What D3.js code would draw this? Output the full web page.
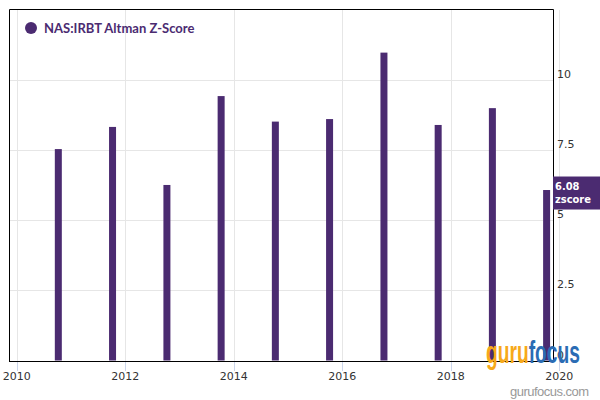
<!DOCTYPE html>
<html><head><meta charset="utf-8">
<script src="https://cdn.jsdelivr.net/npm/d3@7"></script>
<style>body{margin:0;background:#fff}svg{display:block}</style>
</head><body>
<svg id="c" width="600" height="400"></svg>
<script>
const dates = ["2010-10-08","2011-10-08","2012-10-08","2013-10-08","2014-10-08","2015-10-08","2016-10-08","2017-10-08","2018-10-08","2019-10-08"];
const zscores = [7.54, 8.33, 6.26, 9.43, 8.52, 8.61, 10.98, 8.40, 9.00, 6.08];
const xTickYears = [2010, 2012, 2014, 2016, 2018, 2020];
const yTicks = [0, 2.5, 5, 7.5, 10];
const seriesName = "NAS:IRBT Altman Z-Score";
const lastLabel = ["6.08", "zscore"];

(function(){
const purple = "#4b2b71";
const svg = d3.select("#c");
const pL = 9, pR = 553, pT = 9, pB = 361;
const parse = d3.timeParse("%Y-%m-%d");
const x = d3.scaleTime().domain([new Date(2009,10,10), new Date(2019,10,20)]).range([pL, pR]);
const y = d3.scaleLinear().domain([0, 12.5]).range([360.5, 10]);

// horizontal grid
svg.append("g").selectAll("line").data(yTicks.filter(d=>d>0)).join("line")
  .attr("x1", pL).attr("x2", pR)
  .attr("y1", d=>Math.round(y(d))+0.5).attr("y2", d=>Math.round(y(d))+0.5)
  .attr("stroke", "#e6e6e6").attr("stroke-width", 1);
// vertical grid + ticks
const tx = xTickYears.map(yr => new Date(yr,0,1));
svg.append("g").selectAll("line").data(tx).join("line")
  .attr("x1", d=>Math.round(x(d))+0.5).attr("x2", d=>Math.round(x(d))+0.5)
  .attr("y1", pT+1).attr("y2", pB)
  .attr("stroke", "#e6e6e6");
svg.append("g").selectAll("line").data(tx).join("line")
  .attr("x1", d=>Math.round(x(d))+0.5).attr("x2", d=>Math.round(x(d))+0.5)
  .attr("y1", pB).attr("y2", pB+10)
  .attr("stroke", "#ccd6eb");

// bars
svg.append("g").selectAll("rect").data(dates).join("rect")
  .attr("x", d=>x(parse(d))-3.5).attr("width", 7)
  .attr("y", (d,i)=>y(zscores[i])).attr("height", (d,i)=>y(0)-y(zscores[i]))
  .attr("fill", purple);

// frame
svg.append("path")
  .attr("d", `M${pL+0.5},${pB}V${pT+0.5}H${pR+0.5}V${pB}`)
  .attr("fill","none").attr("stroke","#000").attr("stroke-width",1);
svg.append("line").attr("x1", pL).attr("x2", pR+1).attr("y1", pB+0.5).attr("y2", pB+0.5)
  .attr("stroke","#000");

// x labels
svg.append("g").selectAll("text").data(tx).join("text")
  .attr("x", d=>x(d)).attr("y", 380).attr("text-anchor","middle")
  .attr("font-family","DejaVu Sans").attr("font-size",11).attr("fill","#333")
  .text((d,i)=>xTickYears[i]);
// y labels
svg.append("g").selectAll("text").data(yTicks).join("text")
  .attr("x", 557).attr("y", d=>y(d)-2)
  .attr("font-family","DejaVu Sans").attr("font-size",11).attr("fill","#333")
  .text(d=>d);

// legend
svg.append("circle").attr("cx", 31).attr("cy", 28).attr("r", 6).attr("fill", purple);
svg.append("text").attr("x", 44).attr("y", 33)
  .attr("font-family","Lato").attr("font-weight","bold").attr("font-size",13).attr("fill", purple)
  .text(seriesName);

// last value label
const ly = y(zscores[zscores.length-1]);
svg.append("rect").attr("x", 553).attr("y", ly-13.5).attr("width", 47).attr("height", 33).attr("fill", purple);
svg.append("text").attr("x", 555).attr("y", ly).attr("font-family","DejaVu Sans Condensed").attr("font-weight","bold")
  .attr("font-size",11).attr("fill","#fff").text(lastLabel[0]);
svg.append("text").attr("x", 555).attr("y", ly+13).attr("font-family","DejaVu Sans Condensed").attr("font-weight","bold")
  .attr("font-size",11).attr("fill","#fff").text(lastLabel[1]);

// watermark
const logo = svg.append("text").attr("x", 486).attr("y", 363)
  .attr("font-family","Liberation Sans Narrow, Liberation Sans").attr("font-weight","bold").attr("font-size",32).attr("textLength",94).attr("lengthAdjust","spacingAndGlyphs");
logo.append("tspan").attr("fill","#f7a91a").text("guru");
logo.append("tspan").attr("fill","#2b6cb4").text("focus");
svg.append("text").attr("x", 510).attr("y", 396).attr("font-family","Liberation Sans").attr("font-size",13)
  .attr("fill","#999").attr("textLength",79).text("gurufocus.com");
})();
</script>
</body></html>
